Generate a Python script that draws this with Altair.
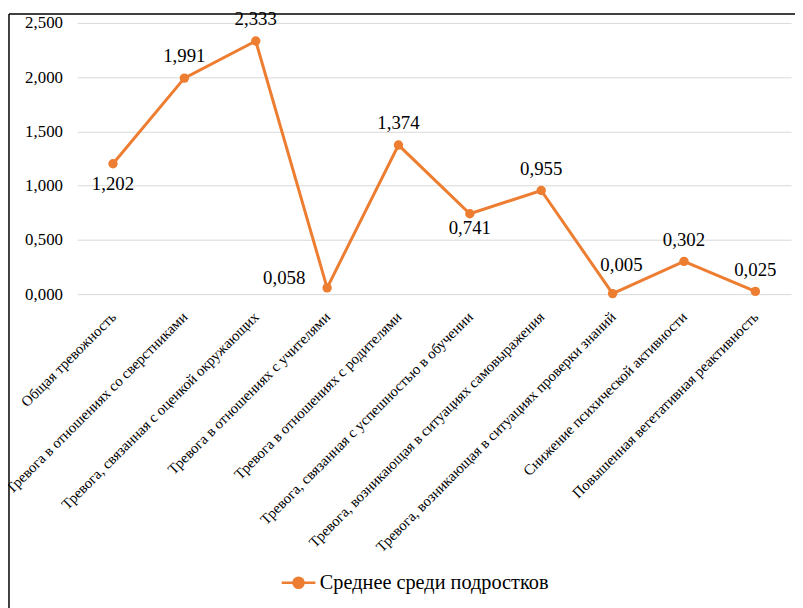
import altair as alt
import pandas as pd

categories = [
    "Общая тревожность",
    "Тревога в отношениях со сверстниками",
    "Тревога, связанная с оценкой окружающих",
    "Тревога в отношениях с учителями",
    "Тревога в отношениях с родителями",
    "Тревога, связанная с успешностью в обучении",
    "Тревога, возникающая в ситуациях самовыражения",
    "Тревога, возникающая в ситуациях проверки знаний",
    "Снижение психической активности",
    "Повышенная вегетативная  реактивность",
]
values = [1.202, 1.991, 2.333, 0.058, 1.374, 0.741, 0.955, 0.005, 0.302, 0.025]
placement = ["below", "above", "above", "left", "above", "below_near",
             "above", "above_right", "above", "above"]
series_name = "Среднее среди подростков"
y_ticks = [0, 0.5, 1.0, 1.5, 2.0, 2.5]

df = pd.DataFrame({
    "cat": categories,
    "val": values,
    "place": placement,
    "series": [series_name] * len(values),
})
df["label"] = df["val"].map(lambda v: f"{v:.3f}".replace(".", ","))

ORANGE = "#ED7D31"
FONT = "Liberation Serif"

x_enc = alt.X("cat:N", sort=categories, title=None,
              axis=alt.Axis(labelAngle=-45, labelAlign="right", labelBaseline="middle",
                            labelFont=FONT, labelFontSize=15, labelColor="#000",
                            labelPadding=20, labelLimit=0, ticks=False, domain=False,
                            grid=False))
y_enc = alt.Y("val:Q", title=None,
              scale=alt.Scale(domain=[0, 2.5], nice=False),
              axis=alt.Axis(values=y_ticks, labelFont=FONT, labelFontSize=17,
                            labelColor="#000", labelPadding=15, ticks=False,
                            domain=False, gridColor="#d9d9d9", gridWidth=1,
                            labelExpr="replace(format(datum.value, '.3f'), '.', ',')"))
color_enc = alt.Color("series:N", title=None,
                      scale=alt.Scale(domain=[series_name], range=[ORANGE]),
                      legend=alt.Legend(orient="none", legendX=205, legendY=547,
                                        symbolType="M-1,0L1,0M0.3,0A0.3,0.3,0,1,1,-0.3,0A0.3,0.3,0,1,1,0.3,0Z",
                                        symbolSize=1156, symbolStrokeWidth=2.5,
                                        symbolFillColor=ORANGE, symbolStrokeColor=ORANGE,
                                        labelFont=FONT, labelFontSize=20.5, labelColor="#000",
                                        labelOffset=3, labelLimit=0, padding=0))

base = alt.Chart(df)
line = base.mark_line(strokeWidth=3).encode(x=x_enc, y=y_enc, color=color_enc)
points = base.mark_point(filled=True, size=90, opacity=1).encode(
    x=x_enc, y=y_enc, color=alt.Color("series:N", scale=alt.Scale(domain=[series_name], range=[ORANGE]), legend=None))

offsets = {
    "above": dict(dx=0, dy=-22, align="center"),
    "below": dict(dx=0, dy=21, align="center"),
    "below_near": dict(dx=0, dy=14, align="center"),
    "left": dict(dx=-22, dy=-10, align="right"),
    "above_right": dict(dx=9, dy=-29, align="center"),
}
label_layers = []
for key, o in offsets.items():
    label_layers.append(
        base.transform_filter(alt.datum.place == key).mark_text(
            font=FONT, fontSize=19, color="#000", baseline="middle",
            dx=o["dx"], dy=o["dy"], align=o["align"]
        ).encode(x=x_enc, y=y_enc, text="label:N")
    )

border_data = alt.Data(values=[{"a": 1}])
left_border = alt.Chart(border_data).mark_rule(color="#000", strokeWidth=1.5).encode(
    x=alt.value(-69), y=alt.value(-9), y2=alt.value(600))
top_border = alt.Chart(border_data).mark_rule(color="#000", strokeWidth=1.5).encode(
    x=alt.value(-69), x2=alt.value(740), y=alt.value(-9))

chart = alt.layer(line, points, *label_layers, left_border, top_border).properties(
    width=721, height=274,
    autosize=alt.AutoSizeParams(type="none"),
    padding={"left": 70, "top": 12, "right": 4, "bottom": 314},
).configure(font=FONT).configure_view(stroke=None).configure_axis(
    labelFont=FONT).configure_legend(labelFont=FONT).configure_text(font=FONT)

chart.save("out.html", embed_options={"renderer": "svg", "actions": False})
